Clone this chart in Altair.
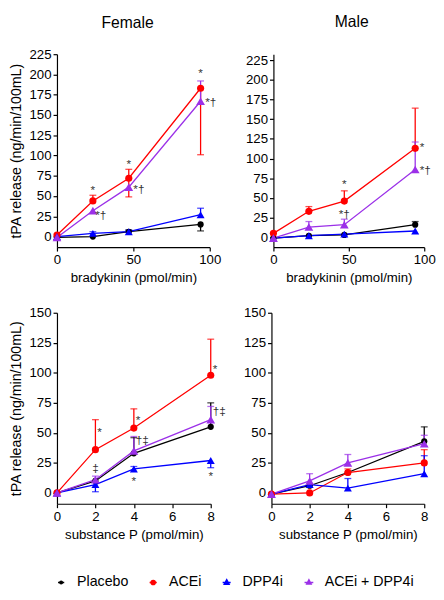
import altair as alt
import pandas as pd

FONT = "Liberation Sans"
SERIES = ["Placebo", "ACEi", "DPP4i", "ACEi + DPP4i"]
COLORS = ["#000000", "#ff0000", "#0000ff", "#9b30e8"]
MARKER_SIZES = [40, 80, 70, 40]

BK_DOSE = [0, 23.5, 47, 94]
SP_DOSE = [0, 2, 4, 8]

# ---- Female, bradykinin ----
F_BK_MEAN = {"Placebo": [-1, 0, 6, 15], "ACEi": [2, 44, 72, 183],
             "DPP4i": [0, 4, 6, 27], "ACEi + DPP4i": [-1, 32, 61, 167]}
F_BK_UP = {"Placebo": [0, 0, 2, 0], "ACEi": [0, 7, 11, 0],
           "DPP4i": [0, 2, 2, 8], "ACEi + DPP4i": [0, 0, 0, 25]}
F_BK_DN = {"Placebo": [0, 0, 0, 8], "ACEi": [0, 0, 23, 82],
           "DPP4i": [0, 0, 0, 0], "ACEi + DPP4i": [0, 0, 0, 0]}
F_BK_ABOVE_X = [23.5, 47, 94]
F_BK_ABOVE_Y = [58, 89, 202]
F_BK_ABOVE_T = ["*", "*", "*"]
F_BK_SIDE_X = [25, 50, 97]
F_BK_SIDE_Y = [27, 59, 166]
F_BK_SIDE_T = ["*\u2020", "*\u2020", "*\u2020"]

# ---- Male, bradykinin ----
M_BK_MEAN = {"Placebo": [-1, 2, 3, 16], "ACEi": [5, 33, 46, 113],
             "DPP4i": [-1, 2, 4, 8], "ACEi + DPP4i": [-1, 13, 16, 86]}
M_BK_UP = {"Placebo": [0, 0, 0, 4], "ACEi": [0, 6, 13, 51],
           "DPP4i": [0, 0, 0, 0], "ACEi + DPP4i": [0, 7, 7, 35]}
M_BK_DN = {"Placebo": [0, 0, 0, 0], "ACEi": [0, 0, 0, 0],
           "DPP4i": [0, 0, 0, 0], "ACEi + DPP4i": [0, 0, 0, 0]}
M_BK_ABOVE_X = [47, 47]
M_BK_ABOVE_Y = [67, 29]
M_BK_ABOVE_T = ["*", "*\u2020"]
M_BK_SIDE_X = [97, 97]
M_BK_SIDE_Y = [114, 85]
M_BK_SIDE_T = ["*", "*\u2020"]

# ---- Female, substance P ----
F_SP_MEAN = {"Placebo": [0, 10, 33, 55], "ACEi": [0, 36, 54, 98],
             "DPP4i": [0, 7, 20, 27], "ACEi + DPP4i": [0, 11, 35, 61]}
F_SP_UP = {"Placebo": [0, 0, 13, 20], "ACEi": [0, 25, 16, 30],
           "DPP4i": [0, 0, 2, 0], "ACEi + DPP4i": [0, 3, 12, 11]}
F_SP_DN = {"Placebo": [0, 0, 0, 0], "ACEi": [0, 0, 0, 0],
           "DPP4i": [0, 6, 0, 6], "ACEi + DPP4i": [0, 0, 0, 0]}
F_SP_ABOVE_X = [2, 4, 8]
F_SP_ABOVE_Y = [21, 10, 14]
F_SP_ABOVE_T = ["\u2021", "*", "*"]
F_SP_SIDE_X = [2.1, 4.1, 8.1, 4.1, 8.1]
F_SP_SIDE_Y = [51, 61, 103, 44, 68]
F_SP_SIDE_T = ["*", "*", "*", "\u2020\u2021", "\u2020\u2021"]

# ---- Male, substance P ----
M_SP_MEAN = {"Placebo": [-1, 6, 17, 43], "ACEi": [-1, 0, 17, 25],
             "DPP4i": [-1, 7, 4, 16], "ACEi + DPP4i": [-1, 10, 25, 41]}
M_SP_UP = {"Placebo": [0, 0, 0, 12], "ACEi": [0, 0, 3, 11],
           "DPP4i": [0, 0, 8, 15], "ACEi + DPP4i": [0, 6, 7, 7]}
M_SP_DN = {"Placebo": [0, 0, 0, 0], "ACEi": [0, 0, 0, 0],
           "DPP4i": [0, 0, 0, 0], "ACEi + DPP4i": [0, 0, 0, 0]}

BK_TICKS = [0, 50, 100]
SP_TICKS = [0, 2, 4, 6, 8]
BK_YTICKS = list(range(0, 226, 25))
SP_YTICKS = list(range(0, 151, 25))


# legend symbols: line segment with the marker on it
def circ(r):
    return f"M-1,0H1M-{r},0A{r},{r} 0 1,0 {r},0A{r},{r} 0 1,0 -{r},0Z"


def tri(r):
    return f"M-1,0H1M0,-{r*1.15:.3f}L{r},{r*0.75:.3f}L-{r},{r*0.75:.3f}Z"


LEGEND_PATHS = [circ(0.42), circ(0.58), tri(0.6), tri(0.5)]

LEG_X = -3
LEG_Y = 532


def frames(doses, mean, up, dn):
    rows = []
    for s in SERIES:
        for i, d in enumerate(doses):
            rows.append({"series": s, "dose": d, "mean": mean[s][i],
                         "up": up[s][i], "dn": dn[s][i]})
    df = pd.DataFrame(rows)
    df["hi"] = df["mean"] + df["up"]
    df["lo"] = df["mean"] - df["dn"]
    err = df[(df["up"] > 0) | (df["dn"] > 0)]
    caps = pd.concat([
        df[df["up"] > 0].assign(cap=lambda d: d["hi"]),
        df[df["dn"] > 0].assign(cap=lambda d: d["lo"]),
    ])
    return df, err, caps


def panel(doses, mean, up, dn, above, side, xdom, xvals, ydom, yvals, w, h,
          xtitle, ytitle, title, title_dx, title_offset, legend=False):
    df, err, caps = frames(doses, mean, up, dn)
    xs = alt.Scale(domain=xdom, nice=False, zero=False)
    ys = alt.Scale(domain=ydom, nice=False, zero=False)
    xax = alt.Axis(values=xvals, title=xtitle, labelFlush=False, labelOverlap=False,
                   titleFontSize=13.5, titlePadding=5)
    if ytitle:
        yax = alt.Axis(values=yvals, title=ytitle, labelOverlap=False,
                       titleFontSize=14.5, titlePadding=6)
    else:
        yax = alt.Axis(values=yvals, title=None, labelOverlap=False)

    def X(f):
        return alt.X(f"{f}:Q", scale=xs, axis=xax)

    def Y(f):
        return alt.Y(f"{f}:Q", scale=ys, axis=yax)

    color = alt.Color("series:N", scale=alt.Scale(domain=SERIES, range=COLORS), legend=None)
    size = alt.Size("series:N", scale=alt.Scale(domain=SERIES, range=MARKER_SIZES), legend=None)

    base = alt.Chart(df)
    lines = base.mark_line(strokeWidth=1.3).encode(x=X("dose"), y=Y("mean"), color=color)
    bars = alt.Chart(err).mark_rule(strokeWidth=1.3).encode(
        x=X("dose"), y=Y("lo"), y2="hi:Q", color=color)
    capm = alt.Chart(caps).mark_tick(orient="horizontal", size=7, thickness=1.3).encode(
        x=X("dose"), y=Y("cap"), color=color)
    circles = base.transform_filter(
        alt.FieldOneOfPredicate(field="series", oneOf=SERIES[:2])
    ).mark_point(shape="circle", filled=True, opacity=1).encode(
        x=X("dose"), y=Y("mean"), color=color, size=size)
    tris = base.transform_filter(
        alt.FieldOneOfPredicate(field="series", oneOf=SERIES[2:])
    ).mark_point(shape="triangle-up", filled=True, opacity=1).encode(
        x=X("dose"), y=Y("mean"), color=color, size=size)
    layers = [lines, bars, capm, circles, tris]

    if above is not None:
        adf = pd.DataFrame({"x": above[0], "y": above[1], "t": above[2]})
        layers.append(alt.Chart(adf).mark_text(
            font=FONT, fontSize=12, color="#333333", align="center", baseline="middle"
        ).encode(x=X("x"), y=Y("y"), text="t:N"))
    if side is not None:
        sdf = pd.DataFrame({"x": side[0], "y": side[1], "t": side[2]})
        layers.append(alt.Chart(sdf).mark_text(
            font=FONT, fontSize=12, color="#333333", align="left", baseline="middle"
        ).encode(x=X("x"), y=Y("y"), text="t:N"))

    if legend:
        lg = alt.Legend(title=None, orient="none", legendX=LEG_X, legendY=LEG_Y,
                        direction="horizontal")
        legend_layer = base.mark_point(filled=True, opacity=0, strokeWidth=1.5).encode(
            x=X("dose"), y=Y("mean"),
            fill=alt.Fill("series:N", scale=alt.Scale(domain=SERIES, range=COLORS), legend=lg),
            stroke=alt.Stroke("series:N", scale=alt.Scale(domain=SERIES, range=COLORS), legend=lg),
            shape=alt.Shape("series:N", scale=alt.Scale(domain=SERIES, range=LEGEND_PATHS), legend=lg),
        )
        layers.insert(0, legend_layer)

    ch = alt.layer(*layers).properties(width=w, height=h)
    if title:
        ch = ch.properties(title=alt.TitleParams(
            title, anchor="middle", frame="group", dx=title_dx, offset=title_offset,
            font=FONT, fontSize=16, fontWeight="normal", color="black"))
    return ch


YT = "tPA release (ng/min/100mL)"
tl = panel(BK_DOSE, F_BK_MEAN, F_BK_UP, F_BK_DN,
           (F_BK_ABOVE_X, F_BK_ABOVE_Y, F_BK_ABOVE_T), (F_BK_SIDE_X, F_BK_SIDE_Y, F_BK_SIDE_T),
           [0, 100], BK_TICKS, [-13, 225], BK_YTICKS, 156, 197,
           "bradykinin (pmol/min)", YT, "Female", -6, 17, legend=True)
tr = panel(BK_DOSE, M_BK_MEAN, M_BK_UP, M_BK_DN,
           (M_BK_ABOVE_X, M_BK_ABOVE_Y, M_BK_ABOVE_T), (M_BK_SIDE_X, M_BK_SIDE_Y, M_BK_SIDE_T),
           [0, 100], BK_TICKS, [-12.5, 232.5], BK_YTICKS, 154, 197,
           "bradykinin (pmol/min)", None, "Male", 3, 24)
bl = panel(SP_DOSE, F_SP_MEAN, F_SP_UP, F_SP_DN,
           (F_SP_ABOVE_X, F_SP_ABOVE_Y, F_SP_ABOVE_T), (F_SP_SIDE_X, F_SP_SIDE_Y, F_SP_SIDE_T),
           [0, 8], SP_TICKS, [-9, 150], SP_YTICKS, 157, 195,
           "substance  P (pmol/min)", "tPA release  (ng/min/100mL)", None, 0, 0)
br = panel(SP_DOSE, M_SP_MEAN, M_SP_UP, M_SP_DN, None, None,
           [0, 8], SP_TICKS, [-9, 150], SP_YTICKS, 156, 195,
           "substance  P (pmol/min)", None, None, 0, 0)

chart = alt.vconcat(
    alt.hconcat(tl, tr, spacing=24),
    alt.hconcat(bl, br, spacing=17),
    spacing=22,
).resolve_scale(fill="shared", stroke="shared", shape="shared").properties(
    padding={"left": 0, "top": 0, "right": 0, "bottom": 0}
).configure_view(stroke=None).configure_axis(
    grid=False, domainColor="black", tickColor="black", tickSize=4,
    labelFont=FONT, labelFontSize=13.5, labelColor="black", labelPadding=2,
    titleFont=FONT, titleFontWeight="normal", titleColor="black",
    domainWidth=1.2, tickWidth=1.2,
).configure_legend(
    symbolSize=256, symbolOpacity=1, symbolStrokeWidth=1.5,
    labelFont=FONT, labelFontSize=14.5, labelColor="black",
    columnPadding=18, labelOffset=9, padding=0,
)

chart.save("out.html", embed_options={"renderer": "svg", "actions": False})
